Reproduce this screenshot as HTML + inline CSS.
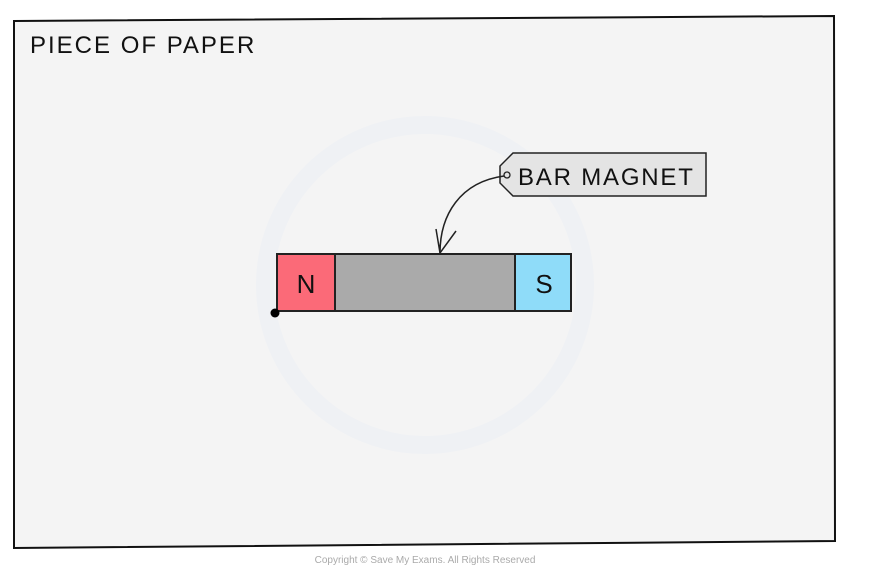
<!DOCTYPE html>
<html><head><style>
body{margin:0;background:#fff;width:891px;height:571px;overflow:hidden}
</style></head><body>
<svg width="891" height="571" viewBox="0 0 891 571" xmlns="http://www.w3.org/2000/svg" style="font-family:'Liberation Sans',sans-serif">
<polygon points="14,21 834,16 835,541 14,548" fill="#f4f4f4" stroke="#111" stroke-width="2"/>
<circle cx="425" cy="285" r="160" fill="none" stroke="#eff1f4" stroke-width="18"/>
<text x="30" y="53" font-size="24" fill="#111" letter-spacing="2">PIECE  OF  PAPER</text>
<polygon points="513,153 706,153 706,196 513,196 500,183 500,166" fill="#e4e4e4" stroke="#222" stroke-width="1.5"/>
<circle cx="507" cy="175" r="3" fill="none" stroke="#222" stroke-width="1.3"/>
<text x="518" y="185" font-size="24" fill="#111" letter-spacing="1.8">BAR  MAGNET</text>
<path d="M504,176 C460,182 440,215 440,253" fill="none" stroke="#222" stroke-width="1.5"/>
<path d="M436,229 L440,253 L456,231" fill="none" stroke="#222" stroke-width="1.5"/>
<rect x="277" y="254" width="58" height="57" fill="#fb6a78" stroke="#222" stroke-width="2"/>
<rect x="335" y="254" width="180" height="57" fill="#aaaaaa" stroke="#222" stroke-width="2"/>
<rect x="515" y="254" width="56" height="57" fill="#8fdcf9" stroke="#222" stroke-width="2"/>
<text x="306" y="293" font-size="26" fill="#111" text-anchor="middle">N</text>
<text x="544" y="293" font-size="26" fill="#111" text-anchor="middle">S</text>
<circle cx="275" cy="313" r="4.5" fill="#000"/>
<text x="425" y="563" font-size="10" fill="#aaa" text-anchor="middle">Copyright © Save My Exams. All Rights Reserved</text>
</svg>
</body></html>
